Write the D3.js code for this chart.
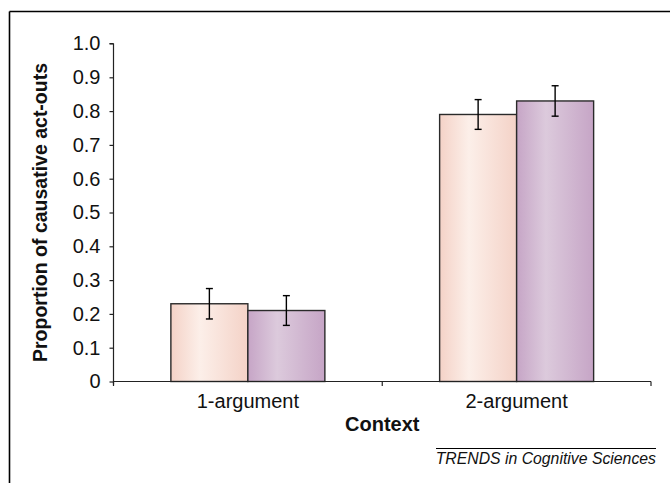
<!DOCTYPE html>
<html>
<head>
<meta charset="utf-8">
<script src="https://cdn.jsdelivr.net/npm/d3@7"></script>
<style>
  html, body { margin: 0; padding: 0; background: #fff; }
  svg { display: block; font-family: "Liberation Sans", Arial, sans-serif; }
</style>
</head>
<body>
<svg id="chart" width="670" height="483"></svg>
<script>
const categories = ["1-argument", "2-argument"];
const seriesNames = ["A", "B"];
const seriesA = [0.23, 0.79];
const seriesB = [0.21, 0.83];
const errorsA = [0.045, 0.044];
const errorsB = [0.044, 0.045];
const yTicks = [0, 0.1, 0.2, 0.3, 0.4, 0.5, 0.6, 0.7, 0.8, 0.9, 1.0];
const yTickLabels = ["0", "0.1", "0.2", "0.3", "0.4", "0.5", "0.6", "0.7", "0.8", "0.9", "1.0"];
const yTitle = "Proportion of causative act-outs";
const xTitle = "Context";
const sourceNote = "TRENDS in Cognitive Sciences";

const svg = d3.select("#chart");
const margin = { left: 113.5, right: 651, top: 43.5, bottom: 381.5 };

const x0 = d3.scaleBand().domain(categories).range([margin.left, margin.right]).paddingInner(0).paddingOuter(0);
const groupPad = 0.2135;
const x1 = d3.scaleBand().domain(seriesNames).range([x0.bandwidth() * groupPad, x0.bandwidth() * (1 - groupPad)]);
const y = d3.scaleLinear().domain([0, 1]).range([margin.bottom, margin.top]);

// gradients
const defs = svg.append("defs");
function grad(id, edge, mid) {
  const g = defs.append("linearGradient").attr("id", id).attr("x1", "0").attr("x2", "1").attr("y1", "0").attr("y2", "0");
  g.append("stop").attr("offset", "0%").attr("stop-color", edge);
  g.append("stop").attr("offset", "38%").attr("stop-color", mid);
  g.append("stop").attr("offset", "100%").attr("stop-color", edge);
}
grad("gA", "#f4d2c7", "#fcefe9");
grad("gB", "#c6a5c6", "#dccadc");

// frame
svg.append("line").attr("x1", 9.5).attr("x2", 670).attr("y1", 11.5).attr("y2", 11.5).attr("stroke", "#000").attr("stroke-width", 1.6);
svg.append("line").attr("x1", 9.5).attr("x2", 9.5).attr("y1", 11.5).attr("y2", 483).attr("stroke", "#000").attr("stroke-width", 1.6);

const data = categories.map((c, i) => ({
  cat: c,
  vals: [
    { s: "A", v: seriesA[i], e: errorsA[i], fill: "url(#gA)" },
    { s: "B", v: seriesB[i], e: errorsB[i], fill: "url(#gB)" }
  ]
}));

const groups = svg.selectAll("g.grp").data(data).enter().append("g")
  .attr("class", "grp")
  .attr("transform", d => `translate(${x0(d.cat)},0)`);

groups.selectAll("rect").data(d => d.vals).enter().append("rect")
  .attr("x", d => x1(d.s))
  .attr("width", x1.bandwidth())
  .attr("y", d => y(d.v))
  .attr("height", d => y(0) - y(d.v))
  .attr("fill", d => d.fill)
  .attr("stroke", "#2a2a2a")
  .attr("stroke-width", 1.4);

const eb = groups.selectAll("g.eb").data(d => d.vals).enter().append("g").attr("class", "eb");
const capW = 3.5;
eb.append("line")
  .attr("x1", d => x1(d.s) + x1.bandwidth() / 2).attr("x2", d => x1(d.s) + x1.bandwidth() / 2)
  .attr("y1", d => y(d.v + d.e)).attr("y2", d => y(d.v - d.e))
  .attr("stroke", "#000").attr("stroke-width", 1.4);
eb.append("line")
  .attr("x1", d => x1(d.s) + x1.bandwidth() / 2 - capW).attr("x2", d => x1(d.s) + x1.bandwidth() / 2 + capW)
  .attr("y1", d => y(d.v + d.e)).attr("y2", d => y(d.v + d.e))
  .attr("stroke", "#000").attr("stroke-width", 1.4);
eb.append("line")
  .attr("x1", d => x1(d.s) + x1.bandwidth() / 2 - capW).attr("x2", d => x1(d.s) + x1.bandwidth() / 2 + capW)
  .attr("y1", d => y(d.v - d.e)).attr("y2", d => y(d.v - d.e))
  .attr("stroke", "#000").attr("stroke-width", 1.4);

// y axis
const yAxis = d3.axisLeft(y).tickValues(yTicks).tickFormat((d, i) => yTickLabels[i]).tickSize(4).tickPadding(9);
const gy = svg.append("g").attr("transform", `translate(${margin.left},0)`).call(yAxis);
gy.select(".domain").attr("stroke", "#222").attr("stroke-width", 1.2).attr("d", `M0,${margin.top}H-4M0,${margin.top}V${margin.bottom + 3}`);
gy.selectAll(".tick line").attr("stroke", "#222").attr("stroke-width", 1.2);
gy.selectAll(".tick text").attr("font-size", 20).attr("fill", "#111").attr("font-family", "Liberation Sans, Arial, sans-serif");

// x axis
const xAxis = d3.axisBottom(x0).tickSize(0).tickPadding(12);
const gx = svg.append("g").attr("transform", `translate(0,${margin.bottom})`).call(xAxis);
gx.select(".domain").attr("stroke", "#222").attr("stroke-width", 1.2).attr("d", `M${margin.left},0H${margin.right}`);
gx.selectAll(".tick text").attr("font-size", 20).attr("fill", "#111").attr("font-family", "Liberation Sans, Arial, sans-serif");
// category separator ticks
const sepX = [margin.left, x0(categories[1]), margin.right];
gx.selectAll("line.sep").data(sepX).enter().append("line").attr("class", "sep")
  .attr("x1", d => d).attr("x2", d => d).attr("y1", 0).attr("y2", 4.5)
  .attr("stroke", "#222").attr("stroke-width", 1.2);

// titles
svg.append("text")
  .attr("transform", `translate(47,${(margin.top + margin.bottom) / 2}) rotate(-90)`)
  .attr("text-anchor", "middle")
  .attr("font-size", 19.5).attr("font-weight", "bold").attr("fill", "#111")
  .text(yTitle);

svg.append("text")
  .attr("x", (margin.left + margin.right) / 2).attr("y", 431)
  .attr("text-anchor", "middle")
  .attr("font-size", 20).attr("font-weight", "bold").attr("fill", "#111")
  .text(xTitle);

// source note
svg.append("line").attr("x1", 436).attr("x2", 656).attr("y1", 448.5).attr("y2", 448.5).attr("stroke", "#000").attr("stroke-width", 1);
svg.append("text")
  .attr("x", 656).attr("y", 464)
  .attr("text-anchor", "end")
  .attr("font-size", 15.8).attr("font-style", "italic").attr("fill", "#111")
  .text(sourceNote);
</script>
</body>
</html>
